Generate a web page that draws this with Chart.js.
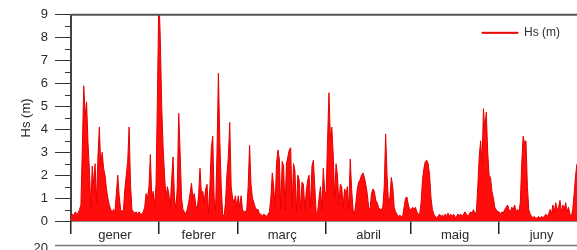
<!DOCTYPE html>
<html>
<head>
<meta charset="utf-8">
<script src="https://cdn.jsdelivr.net/npm/chart.js@4/dist/chart.umd.min.js"></script>
<style>
html,body{margin:0;padding:0;background:#fff;overflow:hidden;}
canvas{display:block;}
</style>
</head>
<body>
<canvas id="c" width="577" height="250"></canvas>
<script>
// ---- categories / tick labels ----
const months = ['gener', 'febrer', 'març', 'abril', 'maig', 'juny'];
const monthStartDay = [0, 31, 59, 90, 120, 151];
const monthLength = [31, 28, 31, 30, 31, 30];
const yMajorTicks = [0, 1, 2, 3, 4, 5, 6, 7, 8, 9];
const yMinorTicks = [0.5, 1.5, 2.5, 3.5, 4.5, 5.5, 6.5, 7.5, 8.5];
const seriesName = 'Hs (m)';
const stepDays = 0.5;          // one reading every 12 h
const xMaxDay = 178.5;         // visible end of the panel

// ---- series values (Hs in m), one value per 12 h ----
const hsJan = [0.2,0.3,0.25,0.4,0.3,0.35,0.5,0.7,3.2,5.9,
  4.6,5.2,3.4,2.2,0.6,2.4,1.6,2.5,0.8,2.8,
  4.1,2.4,3.0,2.3,2.0,1.4,1.0,0.7,0.5,0.4,
  0.5,0.4,1.2,2.0,1.1,0.5,0.4,0.5,1.4,2.0,
  2.6,4.1,1.6,0.5,0.4,0.35,0.4,0.3,0.4,0.3,
  0.3,0.4,0.6,1.2,1.0,1.5,2.9,1.0,1.3,0.7,
  1.6,5.5];
const hsFeb = [9.8,8.0,5.0,3.2,2.0,1.0,1.5,1.2,0.6,1.8,
  2.8,1.0,0.5,1.5,4.7,3.0,1.0,0.5,0.4,0.3,
  0.5,0.8,1.2,1.65,1.0,1.2,0.7,0.5,1.1,2.3,
  1.2,1.3,0.8,1.4,1.6,0.3,1.5,3.2,3.7,1.0,
  0.5,3.0,6.45,3.5,1.5,0.3,0.2,0.8,2.0,2.8,
  4.3,1.5,1.0,0.8,1.1,0.6];
const hsMar = [1.1,0.6,1.1,0.5,0.4,0.4,0.5,1.5,3.3,1.6,
  1.0,0.8,0.6,0.5,0.5,0.3,0.3,0.2,0.3,0.25,
  0.2,0.3,0.4,1.0,2.1,1.5,0.6,2.5,3.1,2.7,
  0.5,2.6,2.4,0.5,2.5,2.8,3.1,3.2,0.6,2.5,
  2.2,0.4,2.0,1.8,0.5,1.7,1.6,0.5,1.3,1.8,
  2.0,0.6,2.4,2.65,1.5,0.3,0.4,1.0,1.5,0.5,
  2.3,1.3];
const hsApr = [1.2,3.5,5.6,3.6,4.1,2.9,1.0,2.5,2.0,0.7,
  1.6,1.5,0.6,1.4,1.2,1.5,0.5,2.7,1.4,0.5,
  0.3,0.8,1.4,1.7,1.8,2.0,2.1,1.9,1.6,1.2,
  0.6,0.5,1.2,1.4,1.3,0.9,0.8,0.6,0.5,0.5,
  0.6,1.5,3.8,2.0,0.8,1.0,1.9,1.5,0.6,0.4,
  0.3,0.2,0.25,0.2,0.2,0.6,1.0,1.05,0.7,0.5];
const hsMay = [0.5,0.6,0.5,0.6,0.4,0.3,0.3,0.8,1.8,2.3,
  2.6,2.65,2.5,2.0,1.0,0.5,0.3,0.2,0.15,0.2,
  0.3,0.2,0.25,0.2,0.3,0.2,0.35,0.2,0.3,0.2,
  0.3,0.15,0.2,0.3,0.25,0.3,0.2,0.3,0.4,0.3,
  0.2,0.3,0.4,0.35,0.5,0.3,0.4,1.5,2.8,3.5,
  2.5,4.9,4.0,4.75,3.0,2.0,1.9,1.3,1.0,0.6,
  0.5,0.4];
const hsJun = [0.4,0.3,0.4,0.35,0.5,0.6,0.7,0.5,0.4,0.6,
  0.5,0.7,0.4,0.5,0.4,0.8,2.5,3.7,3.4,3.5,
  1.5,0.5,0.3,0.2,0.15,0.2,0.1,0.15,0.2,0.1,
  0.2,0.15,0.2,0.3,0.2,0.3,0.5,0.3,0.7,0.4,
  0.8,0.5,0.6,0.9,0.4,0.7,0.5,0.8,0.4,0.6,
  0.3,0.2,0.5,1.2,2.0,2.5];

const hsAll = [].concat(hsJan, hsFeb, hsMar, hsApr, hsMay, hsJun);
const points = hsAll.map((v, i) => ({ x: i * stepDays, y: v }));
const monthCenters = monthStartDay.map((d, i) => d + monthLength[i] / 2);

Chart.defaults.font.family = "'Liberation Sans', Arial, sans-serif";
Chart.defaults.color = '#2a2a2a';

const frame = {
  id: 'frame',
  beforeLayout(chart) {
    const lg = chart.legend;
    if (lg && !lg._zeroFit) {
      const f = lg.fit;
      lg.fit = function () { f.call(this); this.height = 5; };
      lg._zeroFit = true;
    }
  },
  afterLayout(chart) {
    const lg = chart.legend;
    if (lg) { lg.bottom = lg.top + 40; }
  },
  afterDraw(chart) {
    const { ctx, chartArea: a, scales: { y } } = chart;
    ctx.save();
    ctx.strokeStyle = '#333';
    ctx.lineWidth = 1;
    for (const v of yMinorTicks) {
      const py = Math.round(y.getPixelForValue(v)) + 0.5;
      ctx.beginPath(); ctx.moveTo(a.left - 6, py); ctx.lineTo(a.left, py); ctx.stroke();
    }
    ctx.strokeStyle = '#555';
    ctx.lineWidth = 2;
    ctx.beginPath(); ctx.moveTo(a.left, a.top); ctx.lineTo(a.right, a.top); ctx.stroke();
    // top of the next panel (cut off)
    ctx.strokeStyle = '#777';
    ctx.lineWidth = 1.5;
    ctx.beginPath(); ctx.moveTo(55, 245.5); ctx.lineTo(577, 245.5); ctx.stroke();
    ctx.fillStyle = '#2a2a2a';
    ctx.font = "13px 'Liberation Sans', Arial, sans-serif";
    ctx.textAlign = 'right';
    ctx.textBaseline = 'middle';
    ctx.fillText('20', 48, 248.5);
    ctx.restore();
  }
};

new Chart(document.getElementById('c'), {
  type: 'line',
  data: {
    datasets: [{
      label: seriesName,
      data: points,
      borderColor: '#e60000',
      backgroundColor: '#ff0d0d',
      borderWidth: 1,
      pointRadius: 0,
      tension: 0,
      fill: 'origin'
    }]
  },
  options: {
    responsive: false,
    animation: false,
    events: [],
    layout: { padding: { top: 9, left: 0, right: 0, bottom: 0 } },
    plugins: {
      tooltip: { enabled: false },
      legend: {
        display: true,
        position: 'top',
        align: 'end',
        labels: {
          boxWidth: 36,
          boxHeight: 1,
          padding: 17,
          color: '#333',
          font: { size: 12 }
        }
      }
    },
    scales: {
      x: {
        type: 'linear',
        position: 'bottom',
        min: 0,
        max: xMaxDay,
        afterBuildTicks: (s) => { s.ticks = monthStartDay.map(v => ({ value: v })); },
        afterFit: (s) => { s.height = 0; },
        ticks: { display: false },
        grid: { display: true, drawOnChartArea: false, drawTicks: true, tickLength: 13, color: '#222', lineWidth: 1.5 },
        border: { display: true, color: '#222', width: 1.5 }
      },
      x2: {
        type: 'linear',
        position: 'bottom',
        weight: 1,
        min: 0,
        max: xMaxDay,
        afterBuildTicks: (s) => { s.ticks = monthCenters.map(v => ({ value: v })); },
        afterFit: (s) => { s.height = 29; },
        ticks: {
          autoSkip: false, maxRotation: 0, minRotation: 0, padding: 7,
          font: { size: 13 }, color: '#2a2a2a',
          callback: (v, i) => months[i]
        },
        grid: { display: false, drawTicks: false },
        border: { display: false }
      },
      y: {
        position: 'left',
        min: 0,
        max: 9,
        afterBuildTicks: (s) => { s.ticks = yMajorTicks.map(v => ({ value: v })); },
        afterFit: (s) => { s.width = 71; },
        ticks: { padding: 7, font: { size: 13 }, color: '#2a2a2a' },
        grid: { display: true, drawOnChartArea: false, drawTicks: true, tickLength: 16, color: '#333', lineWidth: 1 },
        border: { display: true, color: '#444', width: 2 },
        title: { display: true, text: seriesName, font: { size: 13 }, color: '#2a2a2a', padding: { top: 19, bottom: 0 } }
      }
    }
  },
  plugins: [frame]
});
</script>
</body>
</html>
